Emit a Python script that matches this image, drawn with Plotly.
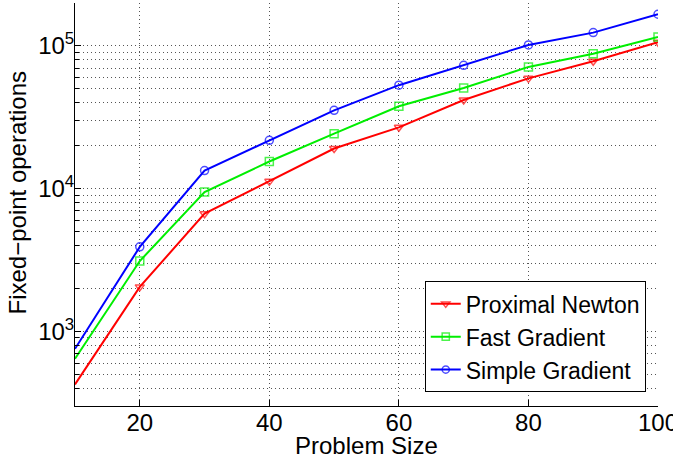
import plotly.graph_objects as go

problem_size = [10, 20, 30, 40, 50, 60, 70, 80, 90, 100]
proximal_newton = [425, 2050, 6680, 11250, 19100, 26900, 41800, 59300, 78200, 106200]
fast_gradient = [643, 3110, 9460, 15500, 24300, 37800, 50700, 71300, 88300, 115700]
simple_gradient = [755, 3910, 13400, 21800, 35400, 53100, 73200, 101600, 124000, 166800]

x_ticks = [20, 40, 60, 80, 100]
y_ticks = [1e3, 1e4, 1e5]
y_tick_text = ["10<sup>3</sup>", "10<sup>4</sup>", "10<sup>5</sup>"]

FONT = "Liberation Sans, Arial, Helvetica, sans-serif"
GRID = "#555"
DOT = "1px,3px"

series = [
    ("Proximal Newton", proximal_newton, "#ff0000", "triangle-down-open"),
    ("Fast Gradient", fast_gradient, "#00ee00", "square-open"),
    ("Simple Gradient", simple_gradient, "#0000ff", "circle-open"),
]

fig = go.Figure()
for name, vals, color, sym in series:
    sizes = [0] + [8] * (len(vals) - 1)
    fig.add_trace(go.Scatter(
        x=problem_size, y=vals, name=name, mode="lines+markers",
        line=dict(color=color, width=2),
        marker=dict(symbol=sym, size=sizes, color=color, line=dict(width=1.5, color=color)),
        cliponaxis=True,
    ))

minor_vals = [m * 10 ** e for e in range(2, 6) for m in range(2, 10)]

fig.update_layout(
    width=673, height=461,
    margin=dict(l=75, r=15, t=3, b=55),
    paper_bgcolor="white", plot_bgcolor="white",
    font=dict(family=FONT, size=24, color="black"),
    showlegend=True,
    legend=dict(
        x=0.979, y=0.034, xanchor="right", yanchor="bottom",
        bgcolor="white", bordercolor="black", borderwidth=1,
        font=dict(size=23), tracegroupgap=0, itemwidth=30,
    ),
    xaxis=dict(
        range=[10, 100], tickvals=x_ticks, automargin=False,
        ticks="inside", ticklen=6, tickcolor="black",
        showline=True, linecolor="black", linewidth=1, mirror=False,
        showgrid=True, gridcolor=GRID, griddash=DOT, gridwidth=1,
        zeroline=False, ticklabeloverflow="allow", ticklabelstandoff=-5,
        tickfont=dict(size=24),
    ),
    yaxis=dict(
        type="log", range=[2.477, 5.301], automargin=False,
        tickvals=y_ticks, ticktext=y_tick_text,
        ticks="inside", ticklen=6, tickcolor="black",
        showline=True, linecolor="black", linewidth=1, mirror=False,
        showgrid=True, gridcolor=GRID, griddash=DOT, gridwidth=1,
        zeroline=False, ticklabeloverflow="allow", ticklabelstandoff=-5,
        minor=dict(tickvals=minor_vals, ticks="inside", ticklen=4, tickcolor="black",
                   showgrid=True, gridcolor=GRID, griddash=DOT, gridwidth=1),
        tickfont=dict(size=24),
    ),
    annotations=[
        dict(text="Problem Size", xref="paper", yref="paper", x=0.5, y=-0.1,
             xanchor="center", yanchor="middle", showarrow=False,
             font=dict(size=24), yshift=1),
        dict(text="Fixed\u2212point operations", xref="paper", yref="paper",
             x=0, y=0.5, xanchor="center", yanchor="middle", textangle=-90,
             showarrow=False, font=dict(size=24), xshift=-58, yshift=12),
    ],
)

fig.write_html(
    "out.html",
    config={"displayModeBar": False},
    post_script="document.body.style.margin='0';document.body.style.padding='0';",
)
